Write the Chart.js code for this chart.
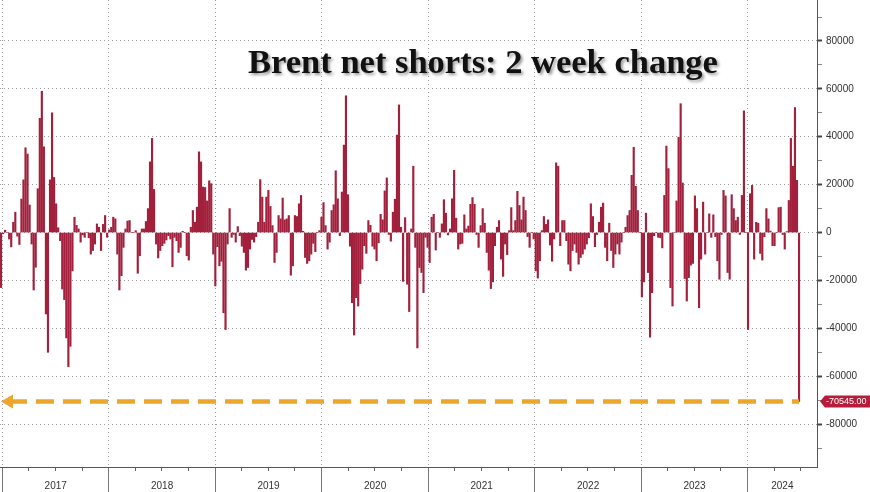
<!DOCTYPE html>
<html>
<head>
<meta charset="utf-8">
<script src="https://cdn.jsdelivr.net/npm/chart.js@4.4.1/dist/chart.umd.min.js"></script>
<style>
html,body{margin:0;padding:0;background:#ffffff;}
#c{display:block;}
</style>
</head>
<body>
<canvas id="c" width="870" height="492"></canvas>
<script>
// ---- data ----
const chartTitle = 'Brent net shorts: 2 week change';
const firstWeek = [2016, 11, 27];           // first weekly observation (UTC y, m0, d)
const yearLabels = ['2017','2018','2019','2020','2021','2022','2023','2024'];
const yTickLabels = [80000, 60000, 40000, 20000, 0, -20000, -40000, -60000, -80000];
const yMinorTicks = [90000, 70000, 50000, 30000, 10000, -10000, -30000, -50000, -70000, -90000];
const netShortChange = [
  -23000,-500,1000,0,-2700,-6000,4300,8500,-1500,-5000,14000,22000,
  35400,32800,11500,-4800,-24000,-14500,18300,47700,59000,35800,-34000,-50000,
  22000,50000,23000,12000,2000,-3400,-23600,-28000,-44000,-56000,-47500,-16000,
  6400,3000,1500,-4000,-1000,-2000,0,-2200,-9000,-7500,-4800,3600,
  2200,-7500,3400,7100,-2000,1100,2200,6400,5700,-9000,-24000,-18000,
  -6200,1500,4800,5000,0,0,800,-17000,-9700,1500,1500,4600,
  10000,29500,39300,18000,-4800,-10600,-7500,-5500,-4500,-3100,-1300,-2700,
  -14300,-2000,-3400,-8300,-6200,500,0,-9700,-11500,2200,9200,4300,
  10600,33700,29500,19000,18800,13200,21600,20400,-9000,-22300,-5900,-13900,
  -12000,-33500,-40500,-4800,10000,-2000,-800,-4000,2500,-1300,-5700,-8300,
  -15700,-14600,-6900,-2900,-4000,-1700,4300,22100,14800,4300,14800,17600,
  10900,2900,-12500,-8300,7100,5700,14400,5300,5700,7100,-17800,-13900,
  7100,6700,12000,15500,500,-10400,-12900,-11800,-9000,-4500,-8000,0,
  800,6400,12500,2900,-6900,-4000,9200,11600,25800,14100,-1300,16900,
  36500,57100,15800,-5700,-29300,-42800,-27200,-30700,-21300,-15300,-5500,-8700,
  5000,3000,-5700,-6900,-11800,-4300,7600,5300,17400,22800,-800,-3600,
  8500,13900,40700,53300,2200,-20400,6200,-21600,-33000,1500,27700,-6200,
  -48200,-14600,-16700,-25100,-2000,-6200,-12500,6400,7600,-7300,0,-2000,
  3600,13700,8100,-1000,1500,14100,26000,6000,-6900,-4800,-4500,7400,
  1500,2700,11800,14600,11800,-800,-6200,2900,10000,3900,-8300,-15700,
  -23400,-20600,-5500,2200,5000,-11100,-18300,-4800,-9200,800,10400,800,
  5000,17200,11300,5300,14800,9200,-1700,-6200,0,-2700,-16000,-19000,
  -11800,800,6700,3400,5300,-5200,-12000,-2700,29100,27700,-5500,5000,
  5000,-3400,-13200,-16000,-7500,-4800,-8300,-13200,-10400,-9000,-6900,-4800,
  -2200,12000,6700,-5900,-800,4300,10600,12300,-6200,-11800,3900,-7500,
  -14600,-9000,-4800,-9000,-4000,0,2200,7100,9200,23900,35600,19300,
  9200,0,-26900,-20600,8100,-16700,-43700,-25100,-1300,0,-2000,-2200,
  -6400,15500,36100,26700,-23000,-30700,0,13200,39800,53800,20700,-19200,
  -28600,-18800,-13600,-12900,15300,10000,-31400,-11100,12700,-9000,0,7800,
  -2000,7400,-1700,-11800,-19500,-800,17600,15300,-16700,-19500,15800,10000,
  5000,6400,-800,15500,50800,0,-40500,16200,19700,-11100,4300,3900,
  -8700,-11500,-1700,10000,5700,600,-5500,-5500,0,10400,10600,-800,
  -6900,400,13400,39300,27700,52200,21800,-70545
];

// ---- derived positions (week index units) ----
const WEEK = 7 * 864e5;
const t0 = Date.UTC(firstWeek[0], firstWeek[1], firstWeek[2]);
const weekPos = (y, m) => (Date.UTC(y, m, 1) - t0) / WEEK;
const X_MIN = -0.5, X_MAX = 399.8;
const yearStarts = yearLabels.map(y => weekPos(+y, 0));
const yearMids = yearLabels.map((y, k) => (yearStarts[k] + (k + 1 < yearStarts.length ? yearStarts[k + 1] : X_MAX)) / 2);
const quarterPos = [];
yearLabels.forEach(y => [3, 6, 9].forEach(m => { const p = weekPos(+y, m); if (p < X_MAX) quarterPos.push(p); }));
const lastIdx = netShortChange.length - 1;
const lastValue = netShortChange[lastIdx];

const xTickList = [];
yearStarts.forEach(v => xTickList.push({value: v, kind: 'b', label: ''}));
yearMids.forEach((v, k) => xTickList.push({value: v, kind: 'm', label: yearLabels[k]}));
xTickList.sort((a, b) => a.value - b.value);

const yTickList = yTickLabels.concat(yMinorTicks).sort((a, b) => a - b);

const barColor = '#A3203C';
const orange = '#EBA62B';
const gridGray = '#9c9c9c';
const axisFont = {family: '"Liberation Sans", Arial, sans-serif', size: 10};

const overlayPlugin = {
  id: 'overlay',
  afterDraw(chart) {
    const ctx = chart.ctx;
    const area = chart.chartArea;
    // title
    ctx.save();
    ctx.font = 'bold 34.5px "Liberation Serif", "Times New Roman", serif';
    ctx.textAlign = 'center';
    ctx.textBaseline = 'alphabetic';
    ctx.shadowColor = 'rgba(0,0,0,0.4)';
    ctx.shadowBlur = 3;
    ctx.shadowOffsetX = 2;
    ctx.shadowOffsetY = 2;
    ctx.fillStyle = '#111111';
    ctx.fillText(chartTitle, 483, 73);
    ctx.restore();
    // last value tag on right axis
    const y = chart.scales.y.getPixelForValue(lastValue);
    const x0 = area.right + 3;
    ctx.save();
    ctx.fillStyle = '#B71C3B';
    ctx.beginPath();
    ctx.moveTo(x0, y);
    ctx.lineTo(x0 + 5, y - 6);
    ctx.lineTo(chart.width, y - 6);
    ctx.lineTo(chart.width, y + 6);
    ctx.lineTo(x0 + 5, y + 6);
    ctx.closePath();
    ctx.fill();
    ctx.fillStyle = '#ffffff';
    ctx.font = '9px "Liberation Sans", Arial, sans-serif';
    ctx.textBaseline = 'middle';
    ctx.textAlign = 'left';
    ctx.fillText(lastValue.toFixed(2), x0 + 6, y + 0.5);
    ctx.restore();
  }
};

new Chart(document.getElementById('c'), {
  type: 'bar',
  data: {
    datasets: [
      {
        type: 'line',
        data: [{x: 3.9, y: lastValue}, {x: lastIdx, y: lastValue}],
        xAxisID: 'x', yAxisID: 'y',
        borderColor: orange,
        borderWidth: 4.5,
        borderDash: [18, 9],
        borderCapStyle: 'butt',
        pointStyle: 'triangle',
        pointRotation: -90,
        pointRadius: [8, 0],
        pointBorderWidth: 0,
        pointBackgroundColor: orange,
        order: 0
      },
      {
        type: 'bar',
        data: netShortChange.map((v, i) => ({x: i, y: v})),
        xAxisID: 'x', yAxisID: 'y',
        backgroundColor: barColor,
        borderWidth: 0,
        barThickness: 1.5,
        order: 1
      }
    ]
  },
  options: {
    responsive: false,
    animation: false,
    devicePixelRatio: 1,
    layout: {padding: 0, autoPadding: false},
    plugins: {legend: {display: false}, tooltip: {enabled: false}, title: {display: false}},
    scales: {
      xq: {
        type: 'linear', position: 'bottom', weight: 0,
        min: X_MIN, max: X_MAX, offset: false,
        afterBuildTicks: s => { s.ticks = quarterPos.map(v => ({value: v})); },
        afterFit: s => { s.height = 0; s.paddingLeft = 0; s.paddingRight = 0; },
        ticks: {display: false},
        grid: {drawOnChartArea: false, tickLength: 4, tickColor: '#666', offset: false},
        border: {display: false}
      },
      x: {
        type: 'linear', position: 'bottom', weight: 1,
        min: X_MIN, max: X_MAX, offset: false,
        afterBuildTicks: s => { s.ticks = xTickList.map(t => ({value: t.value})); },
        afterFit: s => { s.height = 25; s.paddingLeft = 0; s.paddingRight = 0; },
        ticks: {
          autoSkip: false, maxRotation: 0, minRotation: 0, padding: -12,
          font: axisFont, color: '#333333',
          callback: (v, i) => xTickList[i].label
        },
        grid: {
          offset: false,
          color: c => (c.index !== undefined && xTickList[c.index] && xTickList[c.index].kind === 'b') ? gridGray : 'rgba(0,0,0,0)',
          tickColor: c => (c.index !== undefined && xTickList[c.index] && xTickList[c.index].kind === 'b') ? '#777777' : 'rgba(0,0,0,0)',
          tickLength: 25,
          lineWidth: 1
        },
        border: {display: true, color: '#555555', width: 1, dash: [1, 3]}
      },
      y: {
        type: 'linear', position: 'right',
        min: -97900, max: 97100,
        afterBuildTicks: s => { s.ticks = yTickList.map(v => ({value: v})); },
        afterFit: s => { s.width = 53; s.paddingTop = 0; s.paddingBottom = 0; },
        ticks: {
          autoSkip: false, padding: 4, font: axisFont, color: '#333333',
          callback: v => yTickLabels.includes(v) ? String(v) : ''
        },
        grid: {
          color: c => (c.tick && yTickLabels.includes(c.tick.value)) ? gridGray : 'rgba(0,0,0,0)',
          tickColor: c => (c.tick && yTickLabels.includes(c.tick.value)) ? '#444444' : '#888888',
          tickLength: 5,
          tickWidth: c => (c.tick && yTickLabels.includes(c.tick.value)) ? 2 : 1,
          lineWidth: 1
        },
        border: {display: true, color: '#555555', width: 1, dash: [1, 3]}
      }
    }
  },
  plugins: [overlayPlugin]
});
</script>
</body>
</html>
